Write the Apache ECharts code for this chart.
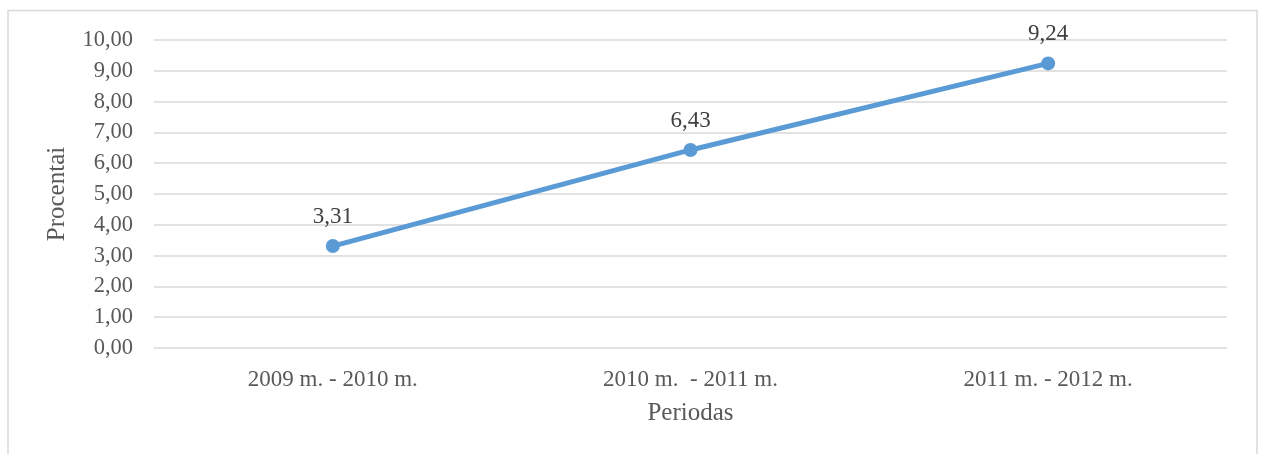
<!DOCTYPE html>
<html>
<head>
<meta charset="utf-8">
<script src="https://cdn.jsdelivr.net/npm/echarts@6/dist/echarts.min.js"></script>
<style>
  html, body { margin: 0; padding: 0; background: #fff; }
  #chart { width: 1261px; height: 454px; }
</style>
</head>
<body>
<div id="chart"></div>
<script>
// Periods and growth percentages
const periods = ['2009 m. - 2010 m.', '2010 m.  - 2011 m.', '2011 m. - 2012 m.'];
const percents = [3.31, 6.43, 9.24];
const yMin = 0, yMax = 10, yStep = 1;

const fmt = v => v.toFixed(2).replace('.', ',');
const font = '"Liberation Serif", "Times New Roman", serif';

const chart = echarts.init(document.getElementById('chart'));
chart.setOption({
  animation: false,
  backgroundColor: '#fff',
  textStyle: { fontFamily: font },
  graphic: [{
    type: 'rect',
    shape: { x: 8, y: 10.5, width: 1249, height: 460 },
    style: { fill: 'none', stroke: '#d9d9d9', lineWidth: 1.5 },
    silent: true
  }],
  grid: { left: 154, right: 34, top: 40, bottom: 106 },
  xAxis: {
    type: 'category',
    data: periods,
    name: 'Periodas',
    nameLocation: 'middle',
    nameGap: 53,
    nameTextStyle: { fontFamily: font, fontSize: 25, color: '#595959' },
    axisLine: { show: false },
    axisTick: { show: false },
    axisLabel: { fontFamily: font, fontSize: 23, color: '#595959', margin: 20 }
  },
  yAxis: {
    type: 'value',
    min: yMin, max: yMax, interval: yStep,
    name: 'Procentai',
    nameLocation: 'middle',
    nameGap: 84,
    nameTextStyle: { fontFamily: font, fontSize: 25, color: '#595959' },
    axisLine: { show: false },
    axisTick: { show: false },
    axisLabel: { fontFamily: font, fontSize: 22.5, color: '#595959', margin: 21, formatter: fmt },
    splitLine: { lineStyle: { color: '#d9d9d9', width: 1.5 } }
  },
  series: [{
    type: 'line',
    data: percents,
    symbol: 'circle',
    symbolSize: 14,
    lineStyle: { color: '#5b9bd5', width: 5 },
    itemStyle: { color: '#5b9bd5' },
    label: {
      show: true, position: 'top', distance: 11,
      fontFamily: font, fontSize: 23, color: '#404040',
      formatter: p => fmt(p.value)
    }
  }]
});
</script>
</body>
</html>
